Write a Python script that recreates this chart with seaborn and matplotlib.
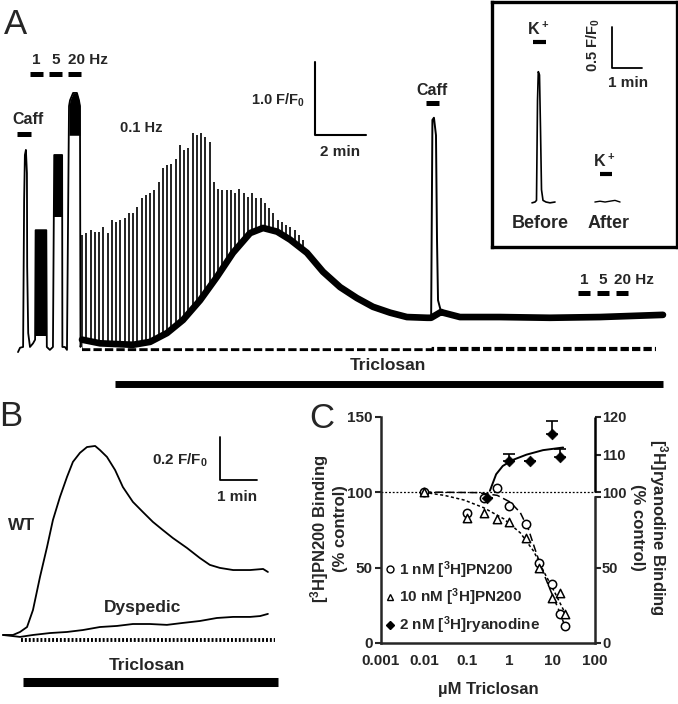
import numpy as np
import seaborn as sns
import matplotlib.pyplot as plt
from matplotlib.lines import Line2D
import matplotlib.transforms as mtransforms

sns.set_style('ticks')
plt.rcParams['font.family'] = ['Liberation Sans', 'DejaVu Sans']
plt.rcParams['font.weight'] = 'bold'
plt.rcParams['axes.labelweight'] = 'bold'
plt.rcParams['mathtext.fontset'] = 'custom'
plt.rcParams['mathtext.rm'] = 'Liberation Sans'
plt.rcParams['mathtext.bf'] = 'Liberation Sans:bold'
plt.rcParams['mathtext.default'] = 'bf'

# ---- panel A: Fluo-4 trace (min, F/F0) ----
pre_t = [0, 0.08, 0.20, 0.24, 0.27, 0.31, 0.35, 0.36, 0.40, 0.47, 0.59, 0.67, 0.69, 1.11,
         1.13, 1.25, 1.37, 1.42, 1.73, 1.74, 1.84, 1.92, 2.00, 2.04, 2.16, 2.31, 2.39, 2.43,
         2.45, 2.51]
pre_f = [0.93, 0.99, 1.00, 3.01, 3.63, 3.70, 3.38, 2.10, 1.19, 1.00, 1.05, 1.10, 2.60, 2.60,
         1.00, 0.96, 1.00, 3.63, 3.63, 1.00, 1.00, 0.96, 4.30, 4.38, 4.48, 4.48, 4.38, 4.30,
         1.00, 1.10]
# fused tetanic responses (1, 5, 20 Hz)
burst_t = [[0.69, 1.11], [1.42, 1.73], [2.00, 2.04, 2.16, 2.31, 2.39, 2.43]]
burst_lo = [1.15, 2.78, 3.90]
burst_hi = [[2.60, 2.60], [3.63, 3.63], [4.30, 4.38, 4.48, 4.48, 4.38, 4.30]]

# 0.1 Hz twitch peaks
spike_start = 2.51
spike_period = 1 / 6
spike_top = [2.53, 2.56, 2.60, 2.58, 2.58, 2.65, 2.56, 2.74, 2.71, 2.74, 2.76, 2.83, 2.83,
             2.92, 3.04, 3.08, 3.11, 3.15, 3.26, 3.45, 3.49, 3.51, 3.58, 3.77, 3.70, 3.72,
             3.93, 3.90, 3.93, 3.88, 3.81, 3.26, 3.17, 3.15, 3.15, 3.15, 3.11, 3.17, 3.11,
             3.06, 3.11, 3.04, 3.04, 2.97, 2.90, 2.83, 2.74, 2.71, 2.67, 2.64, 2.60, 2.53, 2.47]

# slow resting Ca2+ rise during triclosan
env_t = [2.51, 3.22, 4.51, 5.18, 5.84, 6.47, 7.14, 7.80, 8.43, 9.10, 9.61, 10.16, 10.67,
         11.33, 11.96, 12.63, 13.29, 13.92, 14.59, 15.25, 16.04, 16.20]
env_f = [1.10, 1.05, 1.03, 1.07, 1.19, 1.37, 1.64, 1.96, 2.29, 2.56, 2.63, 2.58, 2.47,
         2.29, 2.03, 1.82, 1.67, 1.55, 1.47, 1.41, 1.40, 1.40]
caff2_t = [16.20, 16.25, 16.31, 16.39, 16.43, 16.47, 16.59]
caff2_f = [1.40, 4.11, 4.14, 3.90, 2.47, 1.64, 1.48]
post_t = [16.59, 16.67, 17.33, 18.90, 20.86, 22.82, 25.29]
post_f = [1.48, 1.47, 1.41, 1.41, 1.40, 1.41, 1.44]

# inset (K+ before / after)
before_t = [1.333, 1.433, 1.483, 1.517, 1.543, 1.583, 1.617, 1.65, 1.70, 1.80, 1.933, 2.10]
before_f = [0.99, 1.0, 1.02, 2.24, 2.59, 2.55, 1.88, 1.15, 1.02, 1.0, 0.99, 1.0]
after_t = [3.43, 3.6, 3.77, 3.93, 4.1, 4.27]
after_f = [1.0, 1.01, 1.0, 1.01, 1.02, 1.0]

# ---- panel B ----
wt_t = [0, 0.27, 0.46, 0.65, 0.81, 1.0, 1.19, 1.35, 1.54, 1.73, 1.89, 2.08, 2.27, 2.49, 2.62,
        2.81, 3.03, 3.24, 3.51, 3.78, 4.05, 4.32, 4.59, 4.97, 5.32, 5.59, 5.86, 6.22, 6.68,
        7.03, 7.16]
wt_f = [1.0, 1.0, 1.014, 1.037, 1.116, 1.27, 1.409, 1.535, 1.642, 1.735, 1.805, 1.847, 1.874,
        1.879, 1.86, 1.828, 1.767, 1.688, 1.619, 1.572, 1.526, 1.488, 1.451, 1.405, 1.358,
        1.326, 1.312, 1.302, 1.302, 1.307, 1.293]
dys_t = [0, 0.46, 0.81, 1.27, 1.73, 2.16, 2.62, 3.08, 3.51, 3.97, 4.43, 4.86, 5.32, 5.78,
         6.22, 6.68, 6.95, 7.16]
dys_f = [1.0, 0.991, 1.0, 1.009, 1.014, 1.023, 1.037, 1.042, 1.051, 1.051, 1.047, 1.056,
         1.065, 1.079, 1.084, 1.084, 1.088, 1.098]

# ---- panel C: binding (% control) ----
pn_x = [0.01, 0.1, 0.25, 0.5, 1, 2.5, 5, 10, 15, 20]
pn1_y = [100, 86, 96, 103, 91, 79, 53, 39, 19, 11]
pn10_y = [100, 83, 86, 82, 80, 70, 50, 30, 33, 19]
ryan_x = [0.3, 1, 3, 10, 15]
ryan_y = [96, 108.4, 108.2, 115.5, 109.5]
ryan_err = [0, 1.8, 0, 3.5, 2.0]
fit1_x = [0.01, 0.18, 0.52, 1.05, 1.8, 2.8, 4.0, 5.8, 9, 15.3, 20]
fit1_y = [100.2, 99.8, 98, 93.5, 86.5, 75.3, 62, 48.7, 35.3, 19.8, 10.9]
fit10_x = [0.01, 0.03, 0.087, 0.25, 0.74, 1.8, 3.7, 6.3, 10.7, 20]
fit10_y = [100, 98, 94.9, 89.8, 82.4, 73.1, 60.9, 47.6, 35.3, 19.8]
fitr_x = [0.35, 0.49, 0.70, 1.2, 2.5, 6.1, 18]
fitr_y = [100.4, 104.8, 107.0, 108.6, 110.0, 111.2, 111.9]


def ryan_to_left(v):
    # right axis is expanded above 100 % (10 units per 25 left units)
    v = np.asarray(v, dtype=float)
    return np.where(v > 100, 100 + (v - 100) * 2.5, v)


def bar(ax, x0, x1, y, lw):
    ax.plot([x0, x1], [y, y], color='k', lw=lw, solid_capstyle='butt')


fig = plt.figure(figsize=(6.78, 7.04), dpi=100)

# ================= A =================
axA = fig.add_axes([0, 0.4389, 1, 0.5611])
axA.set_xlim(-0.706, 25.88)
axA.set_ylim(0.342, 5.753)
axA.axis('off')

sns.lineplot(x=pre_t, y=pre_f, sort=False, estimator=None, color='k', lw=1.3, ax=axA)
for bt, lo, hi in zip(burst_t, burst_lo, burst_hi):
    axA.fill_between(bt, lo, hi, color='k', lw=0)
spike_t = spike_start + np.arange(len(spike_top)) * spike_period
axA.vlines(spike_t, 1.0, spike_top, color='#1a1a1a', lw=1.35, zorder=2)
axA.fill_between(env_t, 0.99, env_f, color='white', lw=0, zorder=3)
sns.lineplot(x=env_t + post_t, y=env_f + post_f, sort=False, estimator=None,
             color='k', lw=4.8, ax=axA, zorder=4)
sns.lineplot(x=caff2_t, y=caff2_f, sort=False, estimator=None, color='k', lw=1.4,
             ax=axA, zorder=5)

axA.plot([2.5, 25.0], [0.97, 0.97], color='k', lw=3, ls=(0, (2, 0.75)))
bar(axA, 3.8, 25.3, 0.49, 5)
axA.text(14.5, 0.74, 'Triclosan', ha='center', va='center', fontsize=12.5)

bar(axA, -0.04, 0.51, 3.92, 3.6)
axA.text(0.39, 4.11, 'Caff', ha='center', va='center', fontsize=11.5)
for x0, x1 in [(0.47, 0.98), (1.22, 1.73), (1.96, 2.47)]:
    bar(axA, x0, x1, 4.74, 3.6)
axA.text(0.73, 4.93, '1', ha='center', va='center', fontsize=11)
axA.text(1.47, 4.93, '5', ha='center', va='center', fontsize=11)
axA.text(1.96, 4.93, '20 Hz', ha='left', va='center', fontsize=11)
axA.text(4.82, 4.0, '0.1 Hz', ha='center', va='center', fontsize=10.5)

axA.plot([11.65, 11.65, 13.65], [4.90, 3.90, 3.90], color='k', lw=1.5)
axA.text(11.25, 4.38, '1.0 F/F$_0$', ha='right', va='center', fontsize=10.5)
axA.text(12.63, 3.67, '2 min', ha='center', va='center', fontsize=11)

bar(axA, 16.0, 16.51, 4.34, 3.6)
axA.text(16.24, 4.52, 'Caff', ha='center', va='center', fontsize=11.5)
for x0, x1 in [(21.96, 22.43), (22.71, 23.18), (23.45, 23.92)]:
    bar(axA, x0, x1, 1.74, 3.6)
axA.text(22.2, 1.92, '1', ha='center', va='center', fontsize=11)
axA.text(22.94, 1.92, '5', ha='center', va='center', fontsize=11)
axA.text(23.37, 1.92, '20 Hz', ha='left', va='center', fontsize=11)

fig.text(15 / 678, 1 - 24 / 704, 'A', ha='center', va='center', fontsize=25,
         fontweight='normal')

# inset
axI = fig.add_axes([0.7257, 0.6491, 0.2729, 0.3480])
axI.set_xlim(0, 6.17)
axI.set_ylim(0.451, 3.439)
axI.set_xticks([])
axI.set_yticks([])
for s in axI.spines.values():
    s.set_linewidth(2.4)
    s.set_color('k')
sns.lineplot(x=before_t, y=before_f, sort=False, estimator=None, color='k', lw=1.2, ax=axI)
sns.lineplot(x=after_t, y=after_f, sort=False, estimator=None, color='k', lw=1.0, ax=axI)
bar(axI, 1.37, 1.80, 2.95, 3)
axI.text(1.53, 3.10, 'K$^+$', ha='center', va='center', fontsize=11.5)
bar(axI, 3.6, 4.0, 1.34, 3)
axI.text(3.73, 1.50, 'K$^+$', ha='center', va='center', fontsize=11.5)
axI.text(1.6, 0.744, 'Before', ha='center', va='center', fontsize=13)
axI.text(3.87, 0.744, 'After', ha='center', va='center', fontsize=13)
axI.plot([4.0, 4.0, 5.0], [3.134, 2.634, 2.634], color='k', lw=1.3)
axI.text(3.37, 2.91, '0.5 F/F$_0$', ha='center', va='center', rotation=90, fontsize=10.5)
axI.text(4.53, 2.45, '1 min', ha='center', va='center', fontsize=11)

# ================= B =================
axB = fig.add_axes([0, 0, 290 / 678, 309 / 704])
axB.set_xlim(-0.081, 7.757)
axB.set_ylim(0.679, 2.116)
axB.axis('off')
sns.lineplot(x=wt_t, y=wt_f, sort=False, estimator=None, color='k', lw=1.3, ax=axB)
sns.lineplot(x=dys_t, y=dys_f, sort=False, estimator=None, color='k', lw=1.3, ax=axB)
axB.plot([0.49, 7.35], [0.977, 0.977], color='k', lw=2.8, ls=(0, (0.5, 0.5)))
bar(axB, 0.54, 7.43, 0.781, 6.5)
axB.text(3.89, 0.86, 'Triclosan', ha='center', va='center', fontsize=12.5)
axB.text(0.51, 1.51, 'WT', ha='center', va='center', fontsize=12.5)
axB.text(3.78, 1.13, 'Dyspedic', ha='center', va='center', fontsize=12.5)
axB.plot([5.86, 5.86, 6.86], [1.921, 1.721, 1.721], color='k', lw=1.3)
axB.text(4.78, 1.814, '0.2 F/F$_0$', ha='center', va='center', fontsize=11)
axB.text(6.32, 1.642, '1 min', ha='center', va='center', fontsize=11)
fig.text(11 / 678, 1 - 417 / 704, 'B', ha='center', va='center', fontsize=25,
         fontweight='normal')

# ================= C =================
axC = fig.add_axes([381 / 678, 1 - 643 / 704, 214 / 678, 226 / 704])
axC.set_xscale('log')
axC.set_xlim(0.001, 100)
axC.set_ylim(0, 150)
axC.axhline(100, color='k', lw=0.9, ls=(0, (1.5, 1.5)), zorder=1)

sns.lineplot(x=fit1_x, y=fit1_y, color='k', lw=1.1, ax=axC, linestyle=(0, (5, 2.5)))
sns.lineplot(x=fit10_x, y=fit10_y, color='k', lw=1.1, ax=axC, linestyle=(0, (2, 1.6)))
sns.lineplot(x=fitr_x, y=ryan_to_left(fitr_y), color='k', lw=1.4, ax=axC)

sns.scatterplot(x=pn_x, y=pn1_y, marker='o', s=36, facecolor='white', edgecolor='k',
                linewidth=1.1, ax=axC, zorder=5)
sns.scatterplot(x=pn_x, y=pn10_y, marker='^', s=36, facecolor='white', edgecolor='k',
                linewidth=1.1, ax=axC, zorder=5)
ry_left = ryan_to_left(ryan_y)
ry_top = ryan_to_left(np.array(ryan_y) + np.array(ryan_err))
axC.errorbar(ryan_x, ry_left, yerr=[np.zeros(len(ryan_x)), ry_top - ry_left], fmt='none',
             ecolor='k', elinewidth=1.2, capsize=4, capthick=1.2, zorder=4)
sns.scatterplot(x=ryan_x, y=ry_left, marker='D', s=30, color='k', edgecolor='k', ax=axC,
                zorder=6)

axC.set_xticks([0.001, 0.01, 0.1, 1, 10, 100])
axC.set_xticklabels(['0.001', '0.01', '0.1', '1', '10', '100'])
axC.minorticks_off()
axC.set_yticks([0, 50, 100, 150])
axC.tick_params(axis='both', width=1.5, length=4, labelsize=11, pad=2)
axC.tick_params(axis='x', length=0, pad=8)
axC.spines['top'].set_visible(False)
axC.spines['right'].set_visible(False)
for s in ['left', 'bottom']:
    axC.spines[s].set_linewidth(1.8)
axC.set_xlabel('µM Triclosan', fontsize=12, fontweight='bold', labelpad=10)

ax2 = axC.twinx()
ax2.set_ylim(0, 150)
ax2.set_yticks([0, 50, 100, 125, 150])
ax2.set_yticklabels(['0', '50', '100', '110', '120'])
ax2.set_yticks([97], minor=True)
ax2.tick_params(axis='y', which='both', width=1.5, length=4, labelsize=10.5, pad=1)
for s in ['top', 'left', 'bottom']:
    ax2.spines[s].set_visible(False)
ax2.spines['right'].set_linewidth(1.8)
ax2.spines['right'].set_bounds(0, 97)
trans = mtransforms.blended_transform_factory(ax2.transAxes, ax2.transData)
ax2.plot([1, 1], [100, 150], color='k', lw=1.8, transform=trans, clip_on=False,
         solid_capstyle='butt')

for lab in axC.get_xticklabels() + axC.get_yticklabels() + ax2.get_yticklabels():
    lab.set_fontweight('bold')

fig.text(328 / 678, 1 - 529 / 704, '[$^3$H]PN200 Binding\n(% control)', rotation=90,
         ha='center', va='center', multialignment='center', fontsize=12, linespacing=1.1)
fig.text(650 / 678, 1 - 527 / 704, '[$^3$H]ryanodine Binding\n(% control)', rotation=270,
         ha='center', va='center', multialignment='center', fontsize=12, linespacing=1.1)

handles = [Line2D([], [], marker='o', mfc='white', mec='k', ls='none', ms=5, mew=1),
           Line2D([], [], marker='^', mfc='white', mec='k', ls='none', ms=5, mew=1),
           Line2D([], [], marker='D', mfc='k', mec='k', ls='none', ms=4.5)]
axC.legend(handles, ['1 nM [$^3$H]PN200', '10 nM [$^3$H]PN200', '2 nM [$^3$H]ryanodine'],
           loc='lower left', bbox_to_anchor=(-0.02, -0.01), frameon=False,
           handlelength=0.6, handletextpad=0.25, labelspacing=0.4, borderaxespad=0.2,
           prop={'weight': 'bold', 'size': 11})
fig.text(322 / 678, 1 - 419 / 704, 'C', ha='center', va='center', fontsize=25,
         fontweight='normal')

fig.savefig('out.png', dpi=100)
